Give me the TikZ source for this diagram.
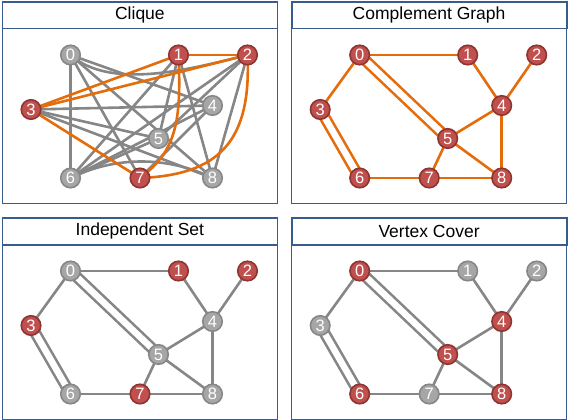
\documentclass[tikz,border=0pt]{standalone}
\usepackage{fontspec}
\setmainfont{Liberation Sans}
\usepackage{tikz}
\usetikzlibrary{backgrounds}
\definecolor{frameblue}{HTML}{385D8A}
\definecolor{hotred}{HTML}{C0504D}
\definecolor{hotreddark}{HTML}{8E3533}
\definecolor{coolgray}{HTML}{A6A6A6}
\definecolor{coolgraydark}{HTML}{878787}
\definecolor{linkgray}{HTML}{868686}
\definecolor{linkorange}{HTML}{E46C0A}

% vertex spots, in pixels from the top left corner of a panel
\def\spots{0/69/54, 1/177/54, 2/246/54, 3/29.5/108.5, 4/211/104.5,
  5/157/137.5, 6/69/177, 7/138.5/177, 8/211/177}

\begin{document}
\begin{tikzpicture}[x=1pt, y=-1pt,
    framebox/.style={draw=frameblue, line width=1.3pt, anchor=north west,
      minimum width=275pt, minimum height=201.5pt, inner sep=0pt},
    titlebox/.style={draw=frameblue, line width=1.8pt, anchor=north west,
      minimum width=275pt, minimum height=26.7pt, inner sep=0pt,
      font=\fontsize{17.5}{18}\selectfont},
    plain/.style={circle, fill=coolgray, draw=coolgraydark, line width=1.6pt,
      minimum size=19.5pt, inner sep=0pt, text=white,
      font=\fontsize{16.5}{16.5}\selectfont},
    picked/.style={plain, fill=hotred, draw=hotreddark},
    link/.style={draw=linkgray, line width=2.6pt},
    hot/.style={draw=linkorange, line width=2.6pt},
    twin/.style={double=white, double distance=6.5pt}]
  \useasboundingbox (0,0) rectangle (568,420);

  % clique
  \begin{scope}[shift={(1.5,1)}, v1/.style=picked, v2/.style=picked,
      v3/.style=picked, v7/.style=picked]
    \node[framebox] (f1) at (0,0) {};
    \node[titlebox] (t1) at (0,0) {Clique};
    \foreach \i/\x/\y in \spots
      \node[plain, v\i/.try] (a\i) at (\x,\y) {\i};
    \begin{scope}[on background layer]
      \foreach \u/\v in {0/4,0/6,0/7,0/8,1/5,1/6,1/8,2/5,2/6,2/8,3/4,3/5,3/8,4/6,4/7,5/6}
        \draw[link] (a\u.center) -- (a\v.center);
      \draw[link] (a0.center) .. controls +(40,35) and +(-60,15) .. (a2.center);
      \draw[link] (a6.center) .. controls +(45,-22) and +(-45,-22) .. (a8.center);
      \foreach \u/\v in {1/2,1/3,2/3,3/7}
        \draw[hot] (a\u.center) -- (a\v.center);
      \draw[hot] (a1.center) .. controls +(3,66) and +(36.5,-27) .. (a7.center);
      \draw[hot] (a2.center) .. controls +(4,86) and +(79.5,-3) .. (a7.center);
    \end{scope}
  \end{scope}

  % complement graph
  \begin{scope}[shift={(290.7,1)}]
    \node[framebox] (f2) at (0,0) {};
    \node[titlebox] (t2) at (0,0) {Complement Graph};
    \foreach \i/\x/\y in \spots
      \node[picked] (b\i) at (\x,\y) {\i};
    \begin{scope}[on background layer]
      \draw[hot, twin] (b0.center) -- (b5.center);
      \draw[hot, twin] (b3.center) -- (b6.center);
      \foreach \u/\v in {0/1,0/3,1/4,2/4,4/5,4/8,5/7,5/8,6/7,7/8}
        \draw[hot] (b\u.center) -- (b\v.center);
    \end{scope}
  \end{scope}

  % independent set
  \begin{scope}[shift={(1.5,217)}, v1/.style=picked, v2/.style=picked,
      v3/.style=picked, v7/.style=picked]
    \node[framebox] (f3) at (0,0) {};
    \node[titlebox] (t3) at (0,0) {Independent Set};
    \foreach \i/\x/\y in \spots
      \node[plain, v\i/.try] (c\i) at (\x,\y) {\i};
    \begin{scope}[on background layer]
      \draw[link, twin] (c0.center) -- (c5.center);
      \draw[link, twin] (c3.center) -- (c6.center);
      \foreach \u/\v in {0/1,0/3,1/4,2/4,4/5,4/8,5/7,5/8,6/7,7/8}
        \draw[link] (c\u.center) -- (c\v.center);
    \end{scope}
  \end{scope}

  % vertex cover
  \begin{scope}[shift={(290.7,217)}, v0/.style=picked, v4/.style=picked,
      v5/.style=picked, v6/.style=picked, v8/.style=picked]
    \node[framebox] (f4) at (0,0) {};
    \node[titlebox] (t4) at (0,0) {Vertex Cover};
    \foreach \i/\x/\y in \spots
      \node[plain, v\i/.try] (d\i) at (\x,\y) {\i};
    \begin{scope}[on background layer]
      \draw[link, twin] (d0.center) -- (d5.center);
      \draw[link, twin] (d3.center) -- (d6.center);
      \foreach \u/\v in {0/1,0/3,1/4,2/4,4/5,4/8,5/7,5/8,6/7,7/8}
        \draw[link] (d\u.center) -- (d\v.center);
    \end{scope}
  \end{scope}
\end{tikzpicture}
\end{document}
